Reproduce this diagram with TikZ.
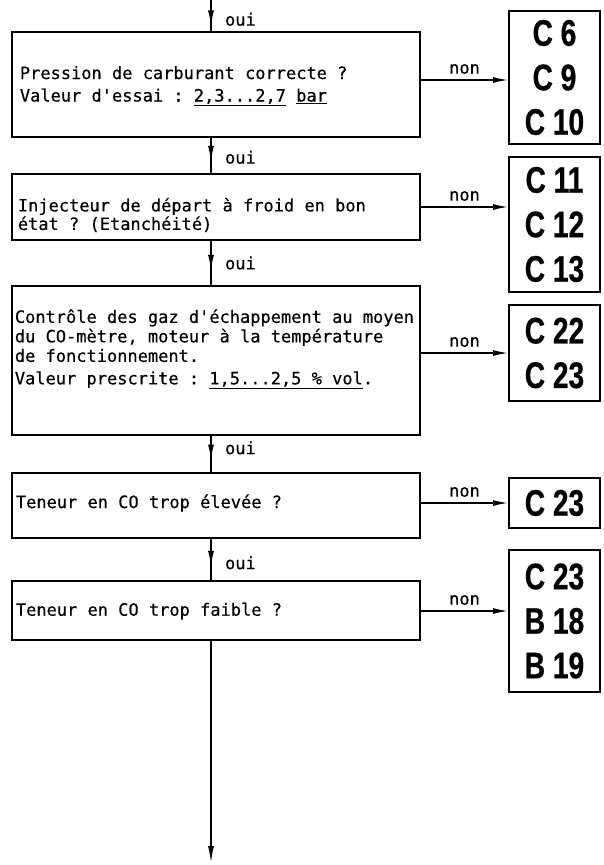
\documentclass[tikz,border=0pt]{standalone}
\usepackage{fontspec}
\setmonofont{DejaVu Sans Mono}[FakeBold=0.4]
\newfontfamily\refsfont{Liberation Sans}[FakeStretch=0.76,BoldFeatures={FakeBold=0.6}]
\usetikzlibrary{arrows.meta,decorations.markings}

\begin{document}
\begin{tikzpicture}[x=1pt,y=-1pt,line width=1.8pt,
 every node/.style={font=\ttfamily\fontsize{17}{19.5}\selectfont},
 question/.style={draw,minimum width=408pt,inner sep=0pt},
 txt/.style={anchor=west,align=left,inner sep=0pt},
 refbox/.style={draw,minimum width=91pt,inner sep=0pt,align=center,
   font=\refsfont\bfseries\fontsize{37}{44.5}\selectfont},
 oui/.style={line width=1.5pt,decoration={markings,
   mark=at position #1 with {\arrow{Latex[length=16pt,width=6pt]}}},
   postaction={decorate}},
 non/.style={line width=1.5pt,-{Latex[length=15pt,width=6pt]}}]
\useasboundingbox (0,0) rectangle (604,865);
\coordinate (top) at (211,0);
\coordinate (end) at (211,863);
% questions
\node[question,minimum height=105pt] (b1) at (216,84.5) {};
\node[question,minimum height=66pt] (b2) at (216,207) {};
\node[question,minimum height=149pt] (b3) at (216,360.5) {};
\node[question,minimum height=65pt] (b4) at (216,505.5) {};
\node[question,minimum height=59pt] (b5) at (216,610.5) {};
\node[txt] (t1) at (19,86) {Pression de carburant correcte ?\\[3pt]
 Valeur d'essai : \underline{2,3...2,7} \underline{bar}};
\node[txt] (t2) at (17,215) {Injecteur de départ à froid en bon\\[-1pt]
 état ? (Etanchéité)};
\node[txt] (t3) at (14,349) {Contrôle des gaz d'échappement au moyen\\
 du CO-mètre, moteur à la température\\de fonctionnement.\\[3pt]
 Valeur prescrite : \underline{1,5...2,5 \% vol}.};
\node[txt] (t4) at (15,503) {Teneur en CO trop élevée ?};
\node[txt] (t5) at (15,611) {Teneur en CO trop faible ?};
% references
\node[refbox,minimum height=133pt] (r1) at (554.5,77.5) {C 6\\C 9\\C 10};
\node[refbox,minimum height=135pt] (r2) at (554.5,224.5) {C 11\\C 12\\C 13};
\node[refbox,minimum height=96pt] (r3) at (554.5,353) {C 22\\C 23};
\node[refbox,minimum height=50pt] (r4) at (554.5,503) {C 23};
\node[refbox,minimum height=142pt] (r5) at (554.5,621) {C 23\\B 18\\B 19};
% connectors
\draw[oui=0.85] (top) -- (b1.north -| top) node[pos=0.62,anchor=west,xshift=10pt] {oui};
\foreach \a/\b/\p in {b1/b2/0.55,b2/b3/0.5,b3/b4/0.33,b4/b5/0.58}
  \draw[oui=0.68] (\a.south -| top) -- (\b.north -| top)
    node[pos=\p,anchor=west,xshift=10pt] {oui};
\foreach \i/\y in {1/80,2/207,3/353,4/503,5/611}
  \draw[non] (b\i.east |- 0,\y) -- (r\i.west |- 0,\y)
    node[midway,above=2pt] {non};
\draw[non,-{Latex[length=17pt,width=6pt]}] (b5.south -| top) -- (end);
\end{tikzpicture}
\end{document}
